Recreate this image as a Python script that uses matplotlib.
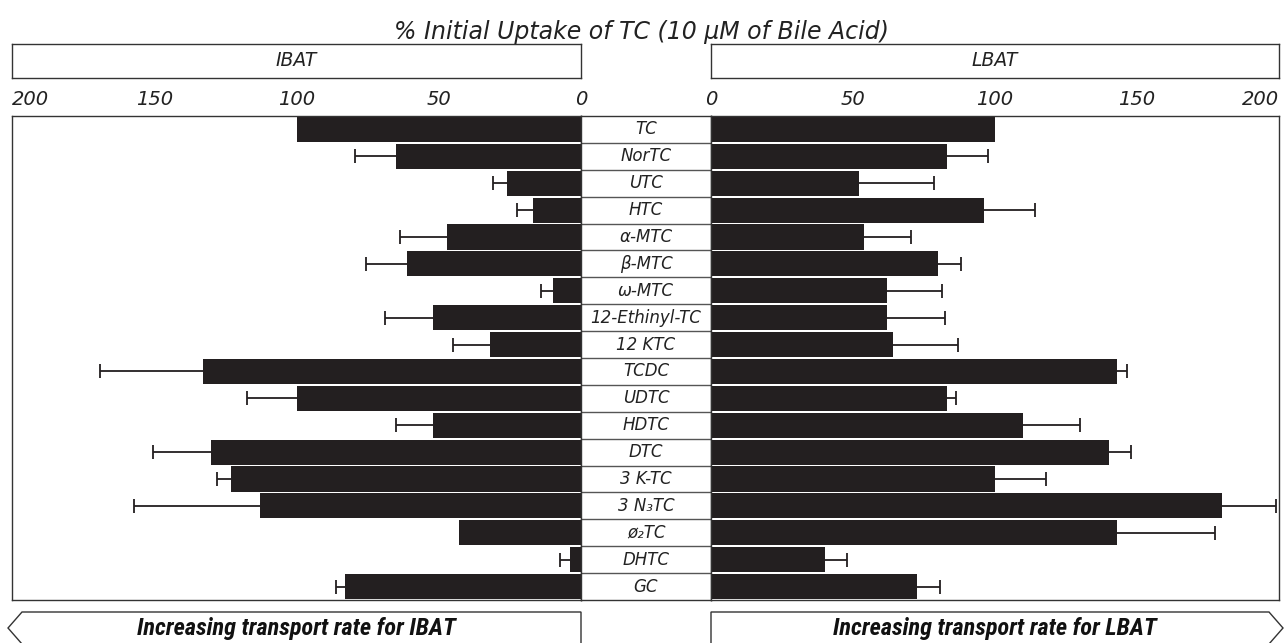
#!/usr/bin/env python3
"""
Back-to-back bar chart: initial uptake of taurocholate (TC) analogues by
IBAT (left) and LBAT (right), % of TC, with one-sided error bars.
"""
import numpy as np
import matplotlib
matplotlib.use("Agg")
import matplotlib.pyplot as plt
import matplotlib.patches as mpatches
from matplotlib import font_manager

# ---------- data ----------
labels = ["TC", "NorTC", "UTC", "HTC", "α-MTC", "β-MTC", "ω-MTC",
          "12-Ethinyl-TC", "12 KTC", "TCDC", "UDTC", "HDTC", "DTC",
          "3 K-TC", "3 N₃TC", "ø₂TC", "DHTC", "GC"]
ibat = [100, 65, 26, 17, 47, 61, 10, 52, 32, 133, 100, 52, 130, 123, 113, 43, 4, 83]
ibat_err = [0, 14.5, 5, 5.5, 16.5, 14.5, 4, 17, 13, 36, 17.5, 13, 20.5, 5, 44, 0, 3.3, 3]
lbat = [100, 83, 52, 96, 54, 80, 62, 62, 64, 143, 83, 110, 140, 100, 180, 143, 40, 72.5]
lbat_err = [0, 14.5, 26.5, 18, 16.5, 8, 19.5, 20.5, 23, 3.5, 3.3, 20, 8, 18, 19, 34.5, 8, 8]
ticks = [0, 50, 100, 150, 200]

title = "% Initial Uptake of TC (10 μM of Bile Acid)"
left_name, right_name = "IBAT", "LBAT"

W, H = 1284, 643
BAR = "#231f20"
FONT = "DejaVu Sans"
SLANT = "oblique"   # DejaVu Sans ships an Oblique face, not an Italic one


def fx(px):
    return px / W


def fy(py):
    return 1 - py / H


def narrow_family():
    # pick a condensed face for the bottom captions if one is installed
    have = {f.name for f in font_manager.fontManager.ttflist}
    for fam in ("Liberation Sans Narrow", "Roboto Condensed", "Roboto", "Liberation Sans"):
        if fam in have:
            return [fam, FONT]
    return [FONT]


def main():
    fig = plt.figure(figsize=(W / 100, H / 100), dpi=100)

    top, bot = 116, 600
    x0, xm0, xm1, x1 = 12, 581, 711, 1279
    axL = fig.add_axes([fx(x0), fy(bot), fx(xm0 - x0), (bot - top) / H])
    axM = fig.add_axes([fx(xm0), fy(bot), fx(xm1 - xm0), (bot - top) / H])
    axR = fig.add_axes([fx(xm1), fy(bot), fx(x1 - xm1), (bot - top) / H])

    n = len(labels)
    y = np.arange(n)

    for ax, vals, errs in ((axL, ibat, ibat_err), (axR, lbat, lbat_err)):
        vals = np.array(vals, float)
        errs = np.array(errs, float)
        ax.barh(y, vals, height=0.93, color=BAR, edgecolor="none", zorder=2)
        m = errs > 0
        eb = ax.errorbar(vals[m], y[m], xerr=[np.zeros(m.sum()), errs[m]],
                         fmt="none", ecolor=BAR, elinewidth=1.3, capsize=5,
                         capthick=1.3, zorder=3)
        eb[1][0].set_visible(False)   # no cap at the bar end
        ax.set_ylim(n - 0.5, -0.5)
        ax.set_yticks([])
        ax.xaxis.tick_top()
        ax.set_xticks(ticks)
        ax.set_xticklabels([str(t) for t in ticks], fontsize=14,
                           fontstyle=SLANT, family=FONT, color="#222222")
        ax.tick_params(axis="x", length=0, pad=5)
        for s in ax.spines.values():
            s.set_linewidth(1.0)
            s.set_color("#333333")

    axL.set_xlim(200, 0)
    axR.set_xlim(0, 200)
    axL.get_xticklabels()[-1].set_ha("left")
    axR.get_xticklabels()[-1].set_ha("right")

    # label column
    axM.set_xlim(0, 1)
    axM.set_ylim(n - 0.5, -0.5)
    axM.set_xticks([])
    axM.set_yticks([])
    for s in axM.spines.values():
        s.set_linewidth(1.0)
        s.set_color("#333333")
    for i in range(1, n):
        axM.axhline(i - 0.5, color="#555555", lw=1.0)
    for i, lab in enumerate(labels):
        axM.text(0.5, i, lab, ha="center", va="center", fontsize=12,
                 fontstyle=SLANT, family=FONT, color="#222222")

    # header boxes
    for name, a, b in ((left_name, x0, xm0), (right_name, xm1, x1)):
        hb = fig.add_axes([fx(a), fy(78), fx(b - a), 34 / H])
        hb.set_xticks([])
        hb.set_yticks([])
        for s in hb.spines.values():
            s.set_linewidth(1.0)
            s.set_color("#333333")
        hb.text(0.5, 0.5, name, ha="center", va="center", fontsize=13.5,
                fontstyle=SLANT, family=FONT, color="#222222",
                transform=hb.transAxes)

    fig.text(0.5, fy(32), title, ha="center", va="center", fontsize=17,
             fontstyle=SLANT, family=FONT, color="#222222")

    # bottom direction arrows
    yt, yc, yb = 612, 628, 644
    left_arrow = [(xm0, yt), (22, yt), (8, yc), (22, yb), (xm0, yb)]
    right_arrow = [(xm1, yt), (1269, yt), (1283, yc), (1269, yb), (xm1, yb)]
    fam = narrow_family()
    for pts, name, cx in ((left_arrow, left_name, (x0 + xm0) / 2),
                          (right_arrow, right_name, (xm1 + x1) / 2)):
        poly = mpatches.Polygon([(fx(a), fy(b)) for a, b in pts], closed=True,
                                transform=fig.transFigure, facecolor="white",
                                edgecolor="#333333", linewidth=1.0)
        fig.add_artist(poly)
        t = fig.text(fx(cx), fy(yc), f"Increasing transport rate for {name}",
                     ha="center", va="center", fontsize=17.5, fontweight="heavy",
                     fontstyle="italic", family=fam, color="#111111")
        # keep the caption about as wide as in the original (~325 px)
        fig.canvas.draw()
        w = t.get_window_extent().width
        if w > 330:
            t.set_fontsize(17.5 * 330 / w)

    fig.savefig("out.png", dpi=100)


if __name__ == "__main__":
    main()
